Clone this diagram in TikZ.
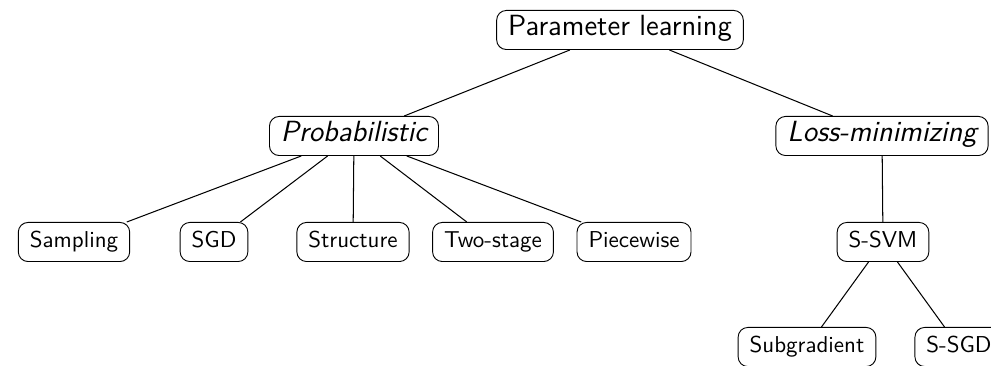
\documentclass[tikz,border=0pt]{standalone}
\begin{document}
\begin{tikzpicture}[x=0.435pt, y=-0.435pt,
    every node/.style={font=\sffamily},
    box/.style={draw, rounded corners=4.2pt, inner xsep=5pt, inner ysep=3.5pt,
                text height=0.75em, text depth=0.25em},
    bigbox/.style={box, font=\sffamily\fontsize{12.7}{15}\selectfont},
    catbox/.style={box, font=\sffamily\fontsize{12.7}{15}\selectfont\itshape},
    edge/.style={draw, line width=0.45pt}]
  \useasboundingbox (0,0) rectangle (991,366);
  \clip (0,0) rectangle (991,366);

  % root
  \node[bigbox] (root) at (620,30) {Parameter learning};

  % two families of methods
  \node[catbox] (prob) at (354,136) {Probabilistic};
  \node[catbox] (loss) at (882,136) {Loss-minimizing};

  % probabilistic methods
  \node[box] (samp) at (74,242) {Sampling};
  \node[box] (sgd)  at (214,242) {SGD};
  \node[box] (str)  at (353,242) {Structure};
  \node[box] (two)  at (493,242) {Two-stage};
  \node[box] (piece) at (634,242) {Piecewise};

  % loss-minimizing methods
  \node[box] (ssvm) at (883,242) {S-SVM};
  \node[box] (subg) at (807,347) {Subgradient};
  \node[box] (ssgd) at (959,347) {S-SGD};

  \draw[edge] (root) -- (prob);
  \draw[edge] (root) -- (loss);
  \foreach \c in {samp,sgd,str,two,piece}
    \draw[edge] (prob) -- (\c);
  \draw[edge] (loss) -- (ssvm);
  \draw[edge] (ssvm) -- (subg);
  \draw[edge] (ssvm) -- (ssgd);
\end{tikzpicture}
\end{document}
